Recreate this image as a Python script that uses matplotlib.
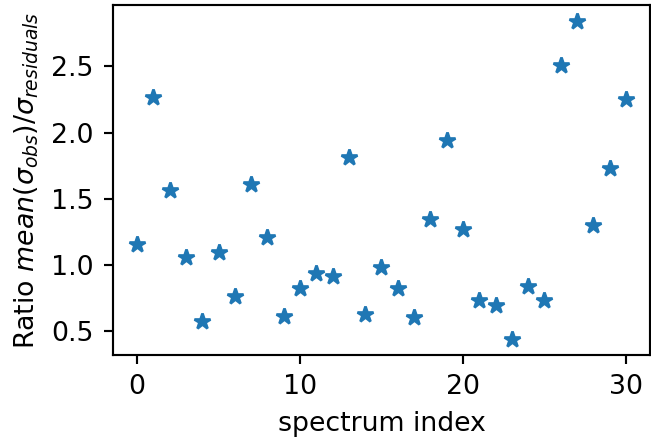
import matplotlib

matplotlib.use("Agg")
import matplotlib.pyplot as plt
import numpy as np

# ratio values, one per spectrum
spectrum_index = np.arange(31)
ratio = [
    1.16, 2.27, 1.57, 1.06, 0.58, 1.10, 0.77, 1.615, 1.215, 0.615,
    0.825, 0.94, 0.915, 1.815, 0.63, 0.985, 0.825, 0.61, 1.345, 1.945,
    1.275, 0.735, 0.70, 0.44, 0.845, 0.735, 2.51, 2.845, 1.30, 1.73,
    2.255,
]

DPI = 193
fig = plt.figure(figsize=(651 / DPI, 438 / DPI), dpi=DPI)
ax = fig.add_axes([0.173, 0.189, 0.826, 0.8])
ax.plot(spectrum_index, ratio, "*")
ax.set_xlabel("spectrum index")
ax.set_ylabel(r"Ratio $mean(\sigma_{obs})/\sigma_{residuals}$")
fig.savefig("out.png", dpi=DPI)
plt.close(fig)
